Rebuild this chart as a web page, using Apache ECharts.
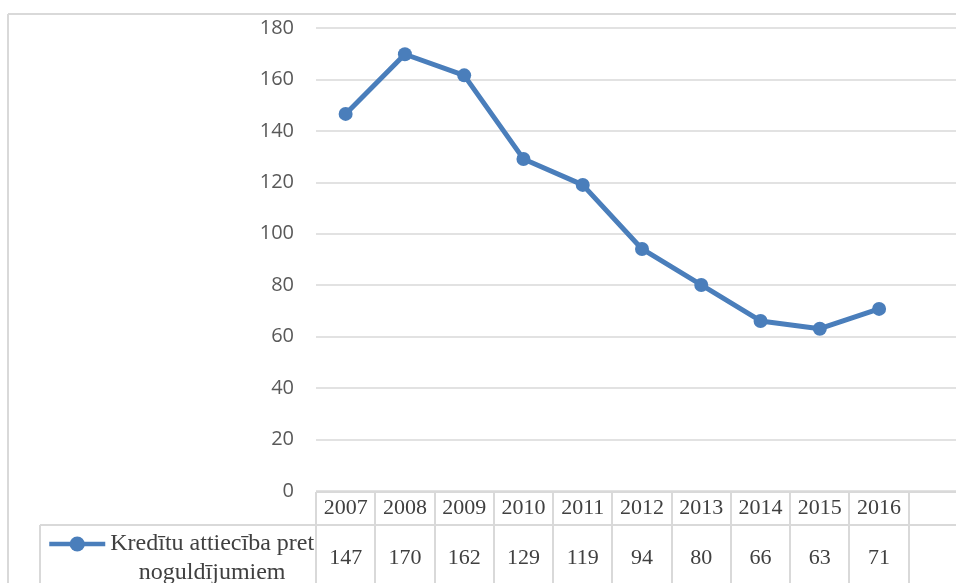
<!DOCTYPE html>
<html>
<head>
<meta charset="utf-8">
<script src="https://cdn.jsdelivr.net/npm/echarts@6/dist/echarts.min.js"></script>
<style>
  html, body { margin: 0; padding: 0; background: #fff; overflow: hidden; }
  /* the original chart is cut off on the right, so the canvas is wider than the window */
  #chart { width: 990px; height: 583px; }
</style>
</head>
<body>
<div id="chart"></div>
<script>
// categories (last column of the table is empty in the original)
const years = ['2007', '2008', '2009', '2010', '2011', '2012', '2013', '2014', '2015', '2016', '']
const ratio = [146.6, 169.8, 161.6, 129.1, 119, 94.1, 80.1, 66.1, 63.1, 70.8, null]
const tableValues = ['147', '170', '162', '129', '119', '94', '80', '66', '63', '71', '']
const seriesName = 'Kredītu attiecība pret noguldījumiem'

const blue = '#4a7ebb'
const gridColor = '#d9d9d9'
const serif = '"Liberation Serif", "Times New Roman", serif'

const chart = echarts.init(document.getElementById('chart'))

const option = {
  animation: false,
  grid: { left: 316, top: 28, width: 652, height: 463 },
  legend: {
    left: 42,
    top: 527,
    itemWidth: 56,
    itemHeight: 19,
    itemGap: 0,
    textGap: 3,
    lineStyle: { width: 4.5 },
    textStyle: {
      fontFamily: serif,
      fontSize: 24,
      color: '#404040',
      padding: [29, 0, 0, 0],
      rich: { a: { align: 'center', fontFamily: serif, fontSize: 24, color: '#404040', lineHeight: 29 } }
    },
    formatter: () => '{a|Kredītu attiecība pret}\n{a|noguldījumiem}',
    data: [seriesName]
  },
  xAxis: [
    {
      type: 'category',
      data: years,
      boundaryGap: true,
      axisLine: { show: false },
      axisTick: { show: false },
      axisLabel: {
        interval: 0,
        margin: 17,
        verticalAlign: 'middle',
        fontFamily: serif,
        fontSize: 22,
        color: '#404040'
      }
    },
    {
      type: 'category',
      data: tableValues,
      position: 'bottom',
      boundaryGap: true,
      axisLine: { show: false },
      axisTick: { show: false },
      axisLabel: {
        interval: 0,
        margin: 67,
        verticalAlign: 'middle',
        fontFamily: serif,
        fontSize: 22,
        color: '#404040'
      }
    }
  ],
  yAxis: {
    type: 'value',
    min: 0,
    max: 180,
    interval: 20,
    axisLine: { show: false },
    axisTick: { show: false },
    axisLabel: {
      margin: 22,
      fontFamily: '"Open Sans", sans-serif',
      fontSize: 20,
      color: '#595959'
    },
    splitLine: { lineStyle: { color: gridColor, width: 1.5 } }
  },
  series: [
    {
      name: seriesName,
      type: 'line',
      data: ratio,
      symbol: 'circle',
      symbolSize: 14,
      lineStyle: { color: blue, width: 5 },
      itemStyle: { color: blue }
    }
  ]
}

chart.setOption(option)

// data table borders, from the category axis positions
const lines = []
const lineStyle = { stroke: gridColor, lineWidth: 2 }
const x0 = chart.convertToPixel({ xAxisIndex: 0 }, 0)
const x1 = chart.convertToPixel({ xAxisIndex: 0 }, 1)
const band = x1 - x0
const yTop = 492
const yMid = 525
const right = 990
for (let i = 0; i <= years.length; i++) {
  const x = Math.round(x0 - band / 2 + i * band)
  lines.push({ type: 'line', shape: { x1: x, y1: yTop, x2: x, y2: 583 }, style: lineStyle, silent: true })
}
lines.push({ type: 'line', shape: { x1: Math.round(x0 - band / 2), y1: yTop, x2: right, y2: yTop }, style: lineStyle, silent: true })
lines.push({ type: 'line', shape: { x1: 40, y1: yMid, x2: right, y2: yMid }, style: lineStyle, silent: true })
lines.push({ type: 'line', shape: { x1: 40, y1: yMid, x2: 40, y2: 583 }, style: lineStyle, silent: true })
// outer chart frame
lines.push({ type: 'line', shape: { x1: 8, y1: 14, x2: right, y2: 14 }, style: lineStyle, silent: true })
lines.push({ type: 'line', shape: { x1: 8, y1: 14, x2: 8, y2: 583 }, style: lineStyle, silent: true })

chart.setOption({ graphic: lines })
</script>
</body>
</html>
